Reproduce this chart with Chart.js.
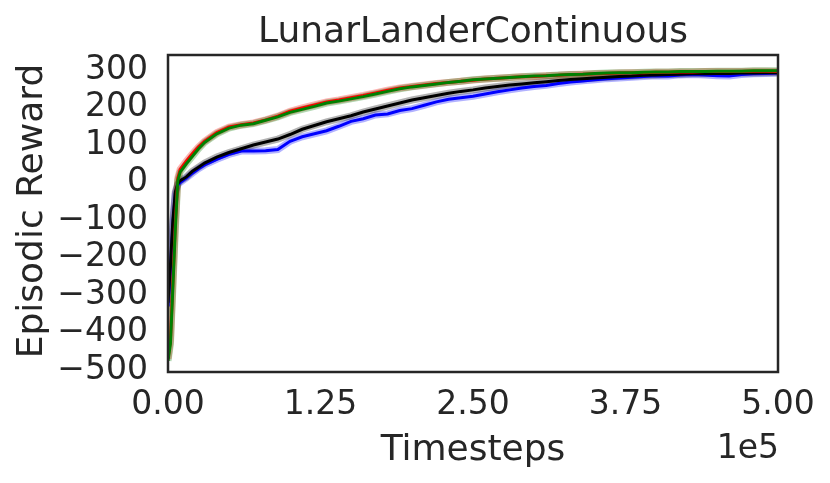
<!DOCTYPE html>
<html>
<head>
<meta charset="utf-8">
<script src="https://cdn.jsdelivr.net/npm/chart.js@4.4.0/dist/chart.umd.min.js"></script>
<style>html,body{margin:0;padding:0;background:#fff}</style>
</head>
<body>
<canvas id="chart" width="830" height="483"></canvas>
<script>
// timesteps (x) and mean episodic reward of each run
var timesteps = [0, 2000, 4000, 6000, 8000, 10000, 15000, 20000, 25000,
    30000, 40000, 50000, 60000, 70000, 80000, 90000, 100000, 110000, 120000,
    130000, 140000, 150000, 160000, 170000, 180000, 190000, 200000, 210000, 220000,
    230000, 240000, 250000, 260000, 270000, 280000, 290000, 300000, 310000, 320000,
    330000, 340000, 350000, 360000, 370000, 380000, 390000, 400000, 410000, 420000,
    430000, 440000, 450000, 460000, 470000, 480000, 490000, 500000];

var rewardGreen = [-475, -430, -280, -125, 5, 28, 50, 70, 90,
    107, 130, 145, 153, 157, 166, 175, 187, 195, 203,
    212, 217, 223, 229, 236, 243, 250, 255, 259, 263,
    267, 270, 274, 276, 278, 280, 282, 284, 285, 287,
    288, 289, 291, 292, 293, 293, 294, 295, 295, 296,
    296, 296, 297, 297, 297, 298, 298, 298];

var rewardRed = [-470, -420, -265, -110, 12, 35, 57, 77, 95,
    110, 133, 148, 154, 159, 167, 177, 190, 199, 207,
    215, 220, 226, 232, 239, 246, 252, 256, 260, 264,
    267, 270, 273, 276, 278, 280, 282, 283, 285, 286,
    288, 289, 290, 291, 292, 293, 293, 294, 294, 295,
    295, 296, 296, 296, 296, 297, 297, 296];

var rewardBlack = [-320, -220, -100, -25, -3, 5, 15, 30, 41,
    52, 68, 80, 90, 100, 108, 116, 128, 142, 152,
    162, 170, 178, 188, 196, 204, 212, 220, 226, 232,
    238, 243, 247, 252, 256, 260, 263, 266, 269, 272,
    275, 277, 279, 281, 283, 284, 286, 287, 288, 289,
    290, 290, 291, 291, 292, 292, 293, 293];

var rewardBlue = [-330, -230, -110, -30, -6, 0, 12, 25, 37,
    47, 62, 75, 84, 84, 85, 88, 110, 122, 130,
    138, 150, 163, 170, 180, 183, 192, 197, 206, 215,
    222, 226, 230, 236, 242, 247, 252, 256, 259, 264,
    268, 271, 274, 277, 279, 281, 283, 285, 284, 287,
    288, 287, 285, 284, 288, 290, 291, 292];

var xTicks = [0, 125000, 250000, 375000, 500000];
var yTicks = [-500, -400, -300, -200, -100, 0, 100, 200, 300];

var textColor = '#262626';
var font = 'DejaVu Sans';

function pts(arr) {
    return timesteps.map(function(t, i) { return {x: t, y: arr[i]}; });
}

var runs = [
    {data: rewardGreen, color: 'rgb(0, 128, 0)', band: 'rgba(0, 128, 0, 0.3)', order: 1},
    {data: rewardRed, color: 'rgb(255, 0, 0)', band: 'rgba(255, 0, 0, 0.3)', order: 2},
    {data: rewardBlack, color: 'rgb(0, 0, 0)', band: 'rgba(0, 0, 0, 0.3)', order: 3},
    {data: rewardBlue, color: 'rgb(0, 0, 255)', band: 'rgba(0, 0, 255, 0.3)', order: 4}
];

var datasets = [];
runs.forEach(function(r) {
    // faint wide stroke under each line, like the std shading
    datasets.push({data: pts(r.data), borderColor: r.band, borderWidth: 7,
        pointRadius: 0, fill: false, order: 10 + r.order});
    datasets.push({data: pts(r.data), borderColor: r.color, borderWidth: 3,
        pointRadius: 0, fill: false, order: r.order});
});

var extras = {
    id: 'extras',
    afterDraw: function(chart) {
        var c = chart.ctx, a = chart.chartArea;
        var cx = (a.left + a.right) / 2;
        c.save();
        c.strokeStyle = textColor;
        c.lineWidth = 2.5;
        c.strokeRect(a.left, a.top, a.right - a.left, a.bottom - a.top);
        c.fillStyle = textColor;
        c.textBaseline = 'alphabetic';
        c.textAlign = 'center';
        c.font = '36px "' + font + '"';
        c.fillText('LunarLanderContinuous', cx, 42);
        c.fillText('Timesteps', cx, 460);
        c.font = '33px "' + font + '"';
        c.textAlign = 'right';
        c.fillText('1e5', a.right + 1, 458);
        c.translate(42, 211);
        c.rotate(-Math.PI / 2);
        c.font = '36px "' + font + '"';
        c.textAlign = 'center';
        c.fillText('Episodic Reward', 0, 0);
        c.restore();
    }
};

new Chart(document.getElementById('chart').getContext('2d'), {
    type: 'line',
    data: {datasets: datasets},
    options: {
        responsive: false,
        animation: false,
        layout: {padding: {top: 55, right: 52, left: 0, bottom: 0}},
        plugins: {legend: {display: false}, tooltip: {enabled: false}},
        elements: {line: {tension: 0}},
        scales: {
            x: {
                type: 'linear', min: 0, max: 500000,
                grid: {display: false, drawTicks: false},
                border: {display: false},
                afterBuildTicks: function(s) { s.ticks = xTicks.map(function(v) { return {value: v}; }); },
                afterFit: function(s) { s.height = 111; },
                ticks: {
                    padding: 14, color: textColor, font: {family: font, size: 33},
                    maxRotation: 0, autoSkip: false,
                    callback: function(v) { return (v / 1e5).toFixed(2); }
                }
            },
            y: {
                type: 'linear', min: -505, max: 340,
                grid: {display: false, drawTicks: false},
                border: {display: false},
                afterBuildTicks: function(s) { s.ticks = yTicks.map(function(v) { return {value: v}; }); },
                afterFit: function(s) { s.width = 168; },
                ticks: {
                    padding: 20, color: textColor, font: {family: font, size: 33},
                    autoSkip: false,
                    callback: function(v) { return v < 0 ? '\u2212' + Math.abs(v) : String(v); }
                }
            }
        }
    },
    plugins: [extras]
});
</script>
</body>
</html>
